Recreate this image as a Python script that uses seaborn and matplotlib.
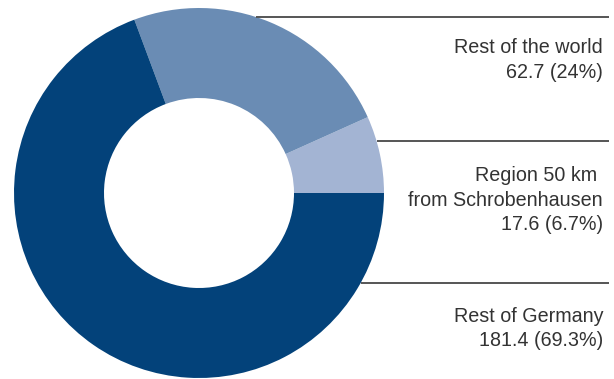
import matplotlib
matplotlib.use("Agg")
import matplotlib.pyplot as plt
import seaborn as sns
import numpy as np

# Sales by region (EUR m), drawn counter-clockwise starting at 3 o'clock
regions = ["Region 50 km ", "Rest of the world", "Rest of Germany"]
sublines = [["from Schrobenhausen"], [], []]
values = [17.6, 62.7, 181.4]
shares = ["6.7%", "24%", "69.3%"]
colors = ["#A3B4D3", "#6A8CB4", "#03427A"]

sns.set_theme(style="white")
plt.rcParams["font.family"] = ["Liberation Sans", "DejaVu Sans"]

W, H = 614, 379
fig = plt.figure(figsize=(W / 100, H / 100), dpi=100)
ax = fig.add_axes([0, 0, 1, 1])

cx, cy, r_out, r_in = 199, 186, 185, 95
ax.pie(values, colors=colors, startangle=0, counterclock=True,
       center=(cx, cy), radius=r_out,
       wedgeprops=dict(width=r_out - r_in, linewidth=0))
ax.set_xlim(0, W)
ax.set_ylim(0, H)
ax.set_aspect("equal")
ax.axis("off")

# leader rules above each label block, starting at the ring's outer edge
rule_y = [238, 362, 96]
x_end = 609
for y in rule_y:
    x0 = cx + np.sqrt(max(r_out ** 2 - (y - cy) ** 2, 0))
    ax.plot([x0, x_end], [y, y], color="#555555", lw=1.4, solid_capstyle="butt")

# label blocks: title lines, then "value (share)"
first_baseline = [198, 326, 57]
step = 24.5
x_text = 603
for name, extra, v, s, yb in zip(regions, sublines, values, shares, first_baseline):
    lines = [name] + extra + [f"{v:.1f} ({s})"]
    for i, t in enumerate(lines):
        ax.text(x_text, yb - i * step, t, ha="right", va="baseline",
                fontsize=14.2, color="#333333")

fig.savefig("out.png", dpi=100)
